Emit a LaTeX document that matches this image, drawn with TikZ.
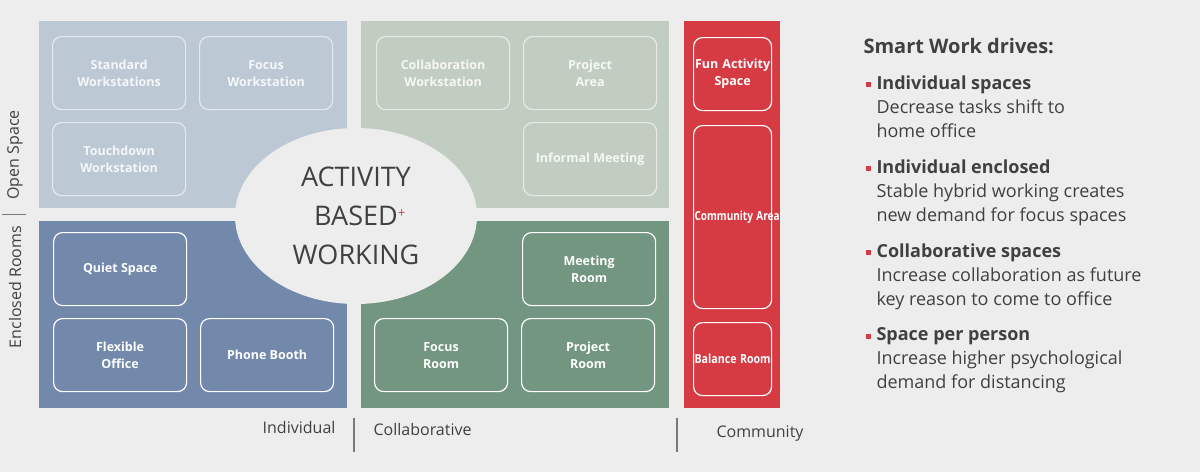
\documentclass[tikz,border=0pt]{standalone}
\usepackage{fontspec}
\setmainfont{Open Sans}
\usetikzlibrary{positioning,shapes.geometric}
\definecolor{bgc}{HTML}{EDEDED}
\definecolor{indOpen}{HTML}{BCC8D4}
\definecolor{colOpen}{HTML}{C2CDC1}
\definecolor{indEncl}{HTML}{7389AB}
\definecolor{colEncl}{HTML}{72967F}
\definecolor{commRed}{HTML}{D63B44}
\definecolor{txtGrey}{HTML}{404040}
\tikzset{
  panel/.style={draw=none, minimum width=308pt, minimum height=187pt, anchor=north west},
  room/.style={draw=white, line width=1.2pt, rounded corners=9pt, minimum width=133pt, minimum height=73pt,
    anchor=north west, align=center, text=white, font=\fontsize{12.5}{17}\selectfont\bfseries},
  dimroom/.style={room, draw=white!60!indOpen, text=white!85!indOpen},
  comroom/.style={room, minimum width=78pt, inner xsep=0pt, text width=76pt},
  axis/.style={text=txtGrey, font=\fontsize{16}{19}\selectfont},
  bul/.style={anchor=north west, align=left, text=txtGrey, font=\fontsize{18}{24}\selectfont},
}
\begin{document}
\begin{tikzpicture}[x=1pt, y=-1pt]
\fill[bgc] (0,0) rectangle (1200,472);
\useasboundingbox (0,0) rectangle (1200,472);

% quadrants
\node[panel, fill=indOpen] (io) at (39,21) {};
\node[panel, fill=colOpen] (co) at (361,21) {};
\node[panel, fill=indEncl] (ie) at (39,221) {};
\node[panel, fill=colEncl] (ce) at (361,221) {};
\node[draw=none, fill=commRed, minimum width=96pt, minimum height=387pt, anchor=north west] (cm) at (684,21) {};

% open space rooms
\node[dimroom] (sw) at (52,36) {Standard\\Workstations};
\node[dimroom] (fw) at (199,36) {Focus\\Workstation};
\node[dimroom] (tw) at (52,122) {Touchdown\\Workstation};
\node[dimroom, draw=white!60!colOpen, text=white!85!colOpen] (cw) at (376,36) {Collaboration\\Workstation};
\node[dimroom, draw=white!60!colOpen, text=white!85!colOpen] (pa) at (523,36) {Project\\Area};
\node[dimroom, draw=white!60!colOpen, text=white!85!colOpen] (im) at (523,122) {Informal Meeting};

% enclosed rooms
\node[room] (qs) at (53,232) {Quiet Space};
\node[room] (fo) at (53,318) {Flexible\\Office};
\node[room] (pb) at (200,318) {Phone Booth};
\node[room] (mr) at (522,232) {Meeting\\Room};
\node[room] (fr) at (374,318) {Focus\\Room};
\node[room] (pr) at (521,318) {Project\\Room};

% community
\node[comroom] (fa) at (693,37) {Fun Activity\\Space};
\node[comroom, minimum height=183pt] (ca) at (693,125) {\scalebox{0.8}[1]{Community Area}};
\node[comroom] (br) at (693,322) {\scalebox{0.85}[1]{Balance Room}};

% centre
\node[ellipse, fill=bgc, minimum width=242pt, minimum height=176pt, align=center, text=txtGrey,
  font=\fontsize{27}{39}\selectfont] (abw) at (356,216)
  {ACTIVITY\\BASED\rlap{\raisebox{8pt}{\textcolor{commRed}{\fontsize{13}{13}\selectfont+}}}\\WORKING};

% axes
\node[axis, rotate=90] (os) at (15,155) {Open Space};
\node[axis, rotate=90] (er) at (15,287) {Enclosed Rooms};
\draw[txtGrey!70, line width=1pt] (2,214) -- (26,214);
\node[axis, anchor=east] (ind) at (339,427) {Individual};
\node[axis, anchor=west] (col) at (370,429) {Collaborative};
\node[axis] (com) at (760,434) {Community};
\draw[txtGrey!70, line width=1.5pt] (354,418) -- (354,452);
\draw[txtGrey!70, line width=1.5pt] (677,418) -- (677,452);

% drivers
\node[anchor=west, text=txtGrey, font=\fontsize{20}{24}\selectfont\bfseries] (hd) at (860,46) {Smart Work drives:};
\foreach \y/\h/\t [count=\i] in {
  72/Individual spaces/{Decrease tasks shift to\\home office},
  156/Individual enclosed/{Stable hybrid working creates\\new demand for focus spaces},
  240/Collaborative spaces/{Increase collaboration as future\\key reason to come to office},
  324/Space per person/{Increase higher psychological\\demand for distancing}}{
  \fill[commRed] (866,\y+10) rectangle (871,\y+15);
  \node[bul] (b\i) at (873,\y) {\textbf{\h}\\\t};
}
\end{tikzpicture}
\end{document}
